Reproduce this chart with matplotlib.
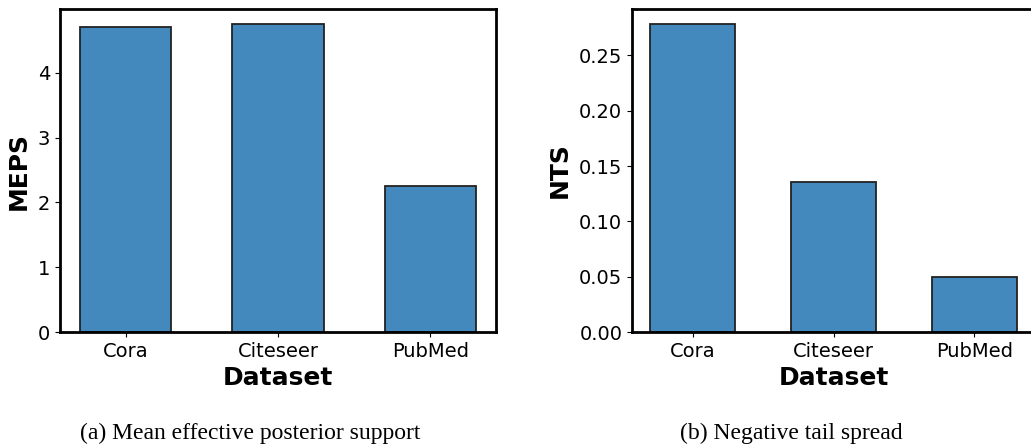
import numpy as np
import matplotlib
matplotlib.use("Agg")
import matplotlib.pyplot as plt

datasets = ["Cora", "Citeseer", "PubMed"]
meps = [4.71, 4.75, 2.26]
nts = [0.278, 0.136, 0.050]

bar_color = "#4389be"

fig = plt.figure(figsize=(10.31, 4.44), dpi=100)
W, H = 1031.0, 444.0

def draw(ax, vals, ylabel):
    x = np.arange(len(datasets))
    ax.bar(x, vals, width=0.6, color=bar_color, edgecolor="#222222", linewidth=1.3)
    ax.set_xticks(x)
    ax.set_xticklabels(datasets, fontsize=14)
    ax.tick_params(axis="x", pad=4)
    ax.tick_params(axis="y", labelsize=14)
    ax.set_xlabel("Dataset", fontsize=18, fontweight="bold", labelpad=3)
    ax.set_ylabel(ylabel, fontsize=18, fontweight="bold", labelpad=5)
    for s in ax.spines.values():
        s.set_linewidth(2.0)

ax1 = fig.add_axes([60 / W, (H - 332) / H, 436 / W, 323 / H])
draw(ax1, meps, "MEPS")
ax1.set_yticks([0, 1, 2, 3, 4])

ax2 = fig.add_axes([632 / W, (H - 332) / H, 403 / W, 323 / H])
draw(ax2, nts, "NTS")
ax2.set_yticks([0, 0.05, 0.10, 0.15, 0.20, 0.25])
ax2.yaxis.set_major_formatter(matplotlib.ticker.FormatStrFormatter("%.2f"))

fig.text(250 / W, 1 - 433 / H, "(a) Mean effective posterior support",
         ha="center", va="center", fontsize=17, family="Liberation Serif")
fig.text(791 / W, 1 - 433 / H, "(b) Negative tail spread",
         ha="center", va="center", fontsize=17, family="Liberation Serif")

fig.savefig("out.png", dpi=100)
